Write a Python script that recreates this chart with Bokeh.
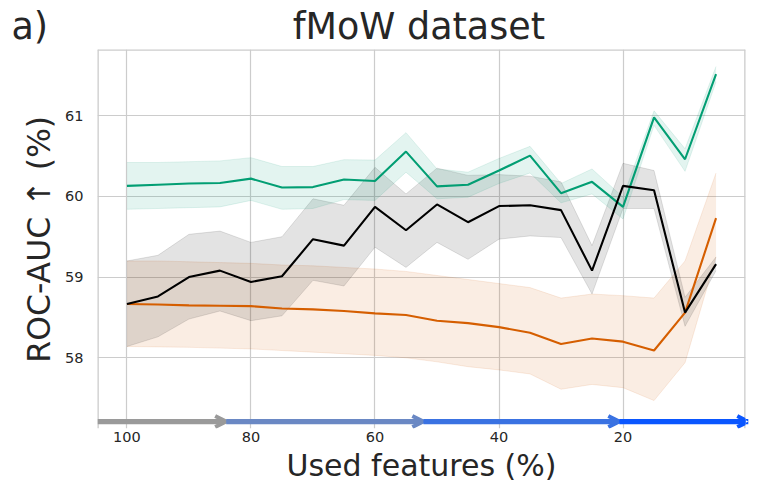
from bokeh.plotting import figure
from bokeh.models import FixedTicker, Range1d, Arrow, OpenHead, Span
from bokeh.embed import file_html
from bokeh.resources import INLINE

# ---------------- data ----------------
features = [100, 95, 90, 85, 80, 75, 70, 65, 60, 55, 50, 45, 40, 35, 30, 25, 20, 15, 10, 5]

green_mean = [60.13, 60.145, 60.16, 60.165, 60.22, 60.11, 60.115, 60.21, 60.19, 60.555,
              60.124, 60.145, 60.32, 60.505, 60.04, 60.18, 59.87, 60.98, 60.46, 61.515]
green_upper = [60.42, 60.42, 60.43, 60.44, 60.48, 60.37, 60.37, 60.455, 60.45, 60.79,
               60.34, 60.30, 60.47, 60.62, 60.16, 60.34, 59.99, 61.06, 60.59, 61.61]
green_lower = [59.84, 59.85, 59.86, 59.87, 59.95, 59.84, 59.85, 59.96, 59.95, 60.30,
               59.97, 59.99, 60.16, 60.29, 59.92, 60.03, 59.72, 60.88, 60.31, 61.42]

black_mean = [58.667, 58.76, 59.0, 59.08, 58.94, 59.01, 59.47, 59.39, 59.87, 59.58,
              59.90, 59.68, 59.88, 59.89, 59.83, 59.08, 60.13, 60.075, 58.56, 59.16]
black_upper = [59.2, 59.27, 59.53, 59.57, 59.43, 59.50, 59.97, 59.89, 60.36, 60.03,
               60.35, 60.26, 60.27, 60.25, 60.18, 59.39, 60.41, 60.32, 58.75, 59.25]
black_lower = [58.14, 58.26, 58.48, 58.58, 58.46, 58.52, 58.96, 58.89, 59.37, 59.12,
               59.43, 59.22, 59.47, 59.51, 59.49, 58.79, 59.85, 59.85, 58.39, 59.08]

orange_mean = [58.667, 58.66, 58.65, 58.645, 58.64, 58.61, 58.60, 58.58, 58.55, 58.53,
               58.46, 58.43, 58.38, 58.31, 58.17, 58.24, 58.20, 58.09, 58.56, 59.73]
orange_upper = [59.2, 59.2, 59.19, 59.18, 59.17, 59.15, 59.14, 59.12, 59.10, 59.07,
                59.02, 58.97, 58.92, 58.87, 58.74, 58.79, 58.77, 58.74, 59.2, 60.29]
orange_lower = [58.14, 58.135, 58.13, 58.12, 58.11, 58.09, 58.07, 58.05, 58.03, 58.0,
                57.95, 57.89, 57.85, 57.80, 57.61, 57.67, 57.63, 57.47, 57.94, 59.25]

x_ticks = [100, 80, 60, 40, 20]
y_ticks = [58, 59, 60, 61]

panel_text = "a)"
title_text = "fMoW dataset"
x_label = "Used features (%)"
y_label = "ROC-AUC \u2191  (%)"
# panel tag and title share one title line; wide unicode spaces keep them apart
title_gap = "\u2003" * 6 + "\u2002\u2009"
# small leading space nudges the rotated y label up to the frame's visual centre
y_label_pad = "\u2009\u200a"

# arrow bar along the x axis (data units of the x axis)
arrow_stops = [104.75, 84.0, 52.2, 20.6, -0.2]
arrow_colors = ["#9a9a9a", "#6a88c4", "#3a72e2", "#0a56ff"]

GREEN = "#029e73"
ORANGE = "#d55e00"
BLACK = "#000000"
FONT = "DejaVu Sans"
TXT = "#262626"
GRID = "#cccccc"

X0, X1 = 104.75, 0.25
Y0, Y1 = 57.124, 61.82

p = figure(width=753, height=485, output_backend="svg", toolbar_location=None,
           x_range=Range1d(X0, X1), y_range=Range1d(Y0, Y1),
           min_border_left=97, min_border_right=8, min_border_top=49, min_border_bottom=57)

p.background_fill_color = "white"
p.border_fill_color = "white"
p.outline_line_color = None

# bands
for lo, hi, col, a in [(orange_lower, orange_upper, ORANGE, 0.11),
                        (black_lower, black_upper, BLACK, 0.11),
                        (green_lower, green_upper, GREEN, 0.11)]:
    p.varea(x=features, y1=lo, y2=hi, fill_color=col, fill_alpha=a)
    p.line(features, lo, line_color=col, line_alpha=a, line_width=1)
    p.line(features, hi, line_color=col, line_alpha=a, line_width=1)

p.line(features, orange_mean, line_color=ORANGE, line_width=2.1)
p.line(features, green_mean, line_color=GREEN, line_width=2.1)
p.line(features, black_mean, line_color=BLACK, line_width=2.1)

# frame spines (left, right, top); the bottom one is the arrow bar
for loc, dim in [(X0, "height"), (X1, "height"), (Y1, "width")]:
    p.add_layout(Span(location=loc, dimension=dim, line_color=GRID, line_width=2.6))

# arrows
arrow_y = 57.21
for i, col in enumerate(arrow_colors):
    p.add_layout(Arrow(x_start=arrow_stops[i], x_end=arrow_stops[i + 1],
                       y_start=arrow_y, y_end=arrow_y,
                       line_color=col, line_width=5.3,
                       end=OpenHead(size=11, line_color=col, line_width=4)))

# axes
p.xaxis.ticker = FixedTicker(ticks=x_ticks)
p.yaxis.ticker = FixedTicker(ticks=y_ticks)
for ax in (p.xaxis[0], p.yaxis[0]):
    ax.axis_line_color = None
    ax.major_tick_line_color = None
    ax.minor_tick_line_color = None
    ax.major_tick_out = 0
    ax.major_tick_in = 0
    ax.major_label_text_font = FONT
    ax.major_label_text_font_size = "14.5px"
    ax.major_label_text_color = TXT
    ax.axis_label_text_font = FONT
    ax.axis_label_text_font_style = "normal"
    ax.axis_label_text_color = TXT
p.xaxis.axis_label = x_label
p.yaxis.axis_label = y_label_pad + y_label
p.xaxis.axis_label_text_font_size = "30px"
p.yaxis.axis_label_text_font_size = "31.5px"
p.xaxis.major_label_standoff = 3
p.yaxis.major_label_standoff = 14
p.xaxis.axis_label_standoff = 3
p.yaxis.axis_label_standoff = 5

p.xgrid.grid_line_color = GRID
p.ygrid.grid_line_color = GRID
p.xgrid.grid_line_width = 1.2
p.ygrid.grid_line_width = 1.2

p.title.text = panel_text + title_gap + title_text
p.title.align = "left"
p.title.offset = -86
p.title.vertical_align = "middle"
p.title.text_font = FONT
p.title.text_font_size = "36.5px"
p.title.text_font_style = "normal"
p.title.text_color = TXT
p.title.standoff = 2

open("out.html", "w").write(file_html(p, INLINE))
